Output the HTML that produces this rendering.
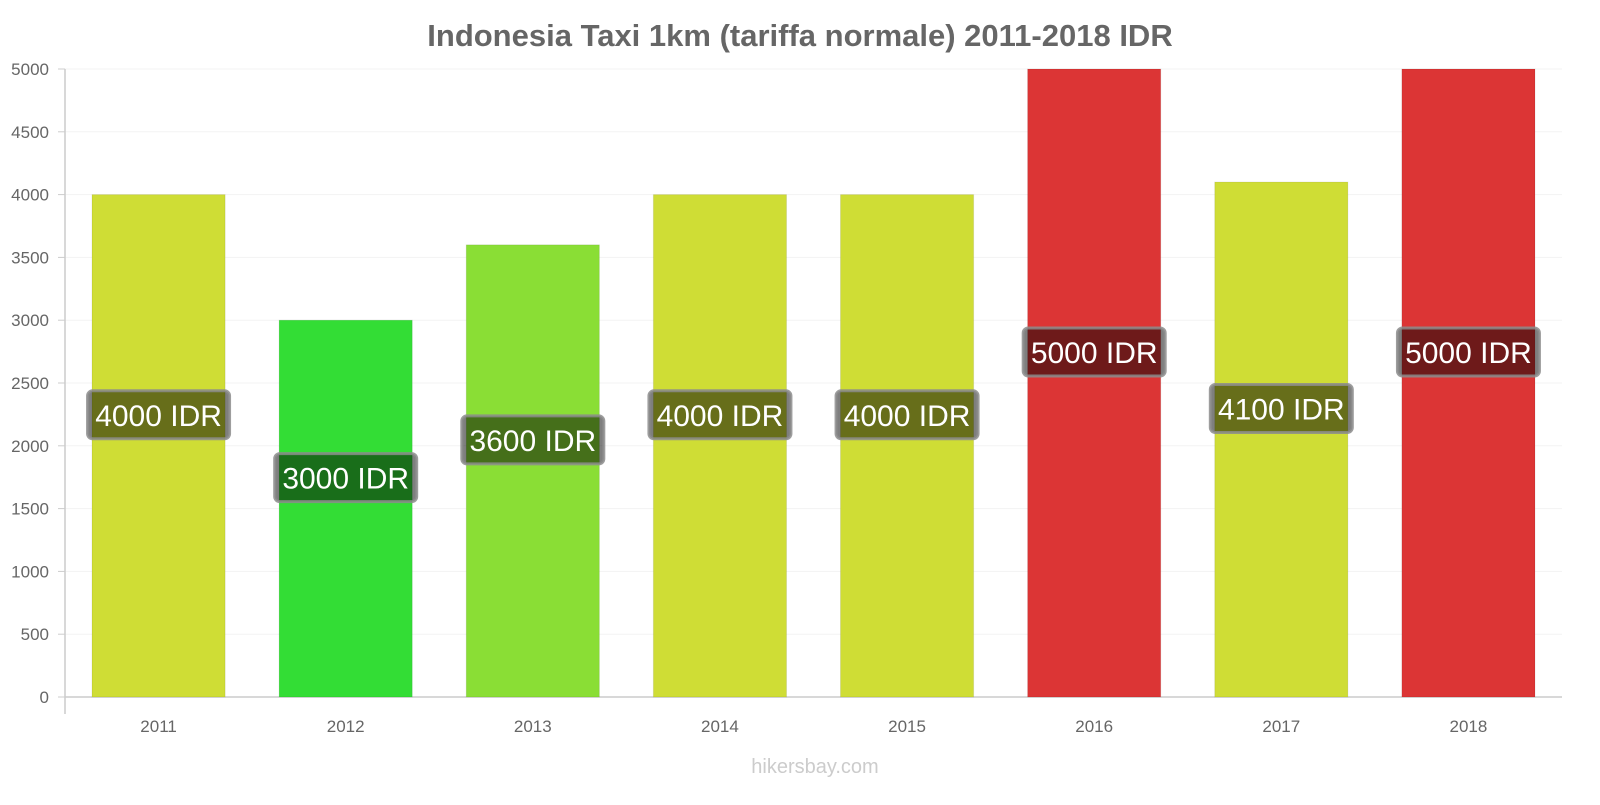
<!DOCTYPE html>
<html><head><meta charset="utf-8"><style>
body{margin:0;background:#fff;font-family:"Liberation Sans",sans-serif}
</style></head><body>
<svg id="c" width="1600" height="800" xmlns="http://www.w3.org/2000/svg">
<text x="800" y="46" text-anchor="middle" font-size="31" font-weight="bold" fill="#666">Indonesia Taxi 1km (tariffa normale) 2011-2018 IDR</text>
<text x="815" y="773" text-anchor="middle" font-size="20" fill="#ccc">hikersbay.com</text>
</svg>
<script>
const categories=["2011","2012","2013","2014","2015","2016","2017","2018"];
const values=[4000,3000,3600,4000,4000,5000,4100,5000];
const colors=["#cfdd35","#33dd35","#8ade35","#cfdd35","#cfdd35","#dc3535","#cfdd35","#dc3535"];
const yTicks=[0,500,1000,1500,2000,2500,3000,3500,4000,4500,5000];
const svg=document.getElementById('c');const NS="http://www.w3.org/2000/svg";
const x0=65,x1=1562,y0=697,y1=69,yMax=5000;
const y=v=>y0-(v/yMax)*(y0-y1);
const band=(x1-x0)/categories.length;
function mk(t,a,p){const e=document.createElementNS(NS,t);for(const k in a)e.setAttribute(k,a[k]);(p||svg).appendChild(e);return e;}
yTicks.forEach(t=>{
 const g=mk('line',{x1:x0,x2:x1,y1:y(t),y2:y(t),stroke:'#f3f3f3'});
 
 
 const l=mk('text',{x:49,y:y(t)+6,'text-anchor':'end','font-size':17,fill:'#666'});l.textContent=t;
 
 
 mk('line',{x1:58,x2:x0,y1:y(t),y2:y(t),stroke:'#ccc'});
});
const ax=mk('line',{x1:x0,x2:x0,y1:y1,y2:714,stroke:'#ccc','stroke-width':1.5});


const xa=mk('line',{x1:x0,x2:x1,y1:y0,y2:y0,stroke:'#ccc','stroke-width':1.5});


categories.forEach((c,i)=>{
 const bx=x0+i*band+27,bw=band-54,v=values[i];
 const r=mk('rect',{x:bx,y:y(v),width:bw,height:y0-y(v),fill:colors[i],stroke:'rgba(0,0,0,0.08)'});
 
 
 const cx=bx+bw/2;
 const t=mk('text',{x:cx,y:732,'text-anchor':'middle','font-size':17,fill:'#666'});t.textContent=c;
 
 
 const ly=(y(v)+y0)/2-31;
 const lbl=c.length?v+' IDR':'';
 const bg=mk('rect',{x:cx-71,y:ly-24,width:142,height:48,rx:5,fill:'rgba(0,0,0,0.5)',stroke:'rgba(140,140,140,0.85)','stroke-width':3});
 
 
 const tt=mk('text',{x:cx,y:ly+11,'text-anchor':'middle','font-size':30,fill:'#fff'});tt.textContent=lbl;
 
 
});
</script>
</body></html>
